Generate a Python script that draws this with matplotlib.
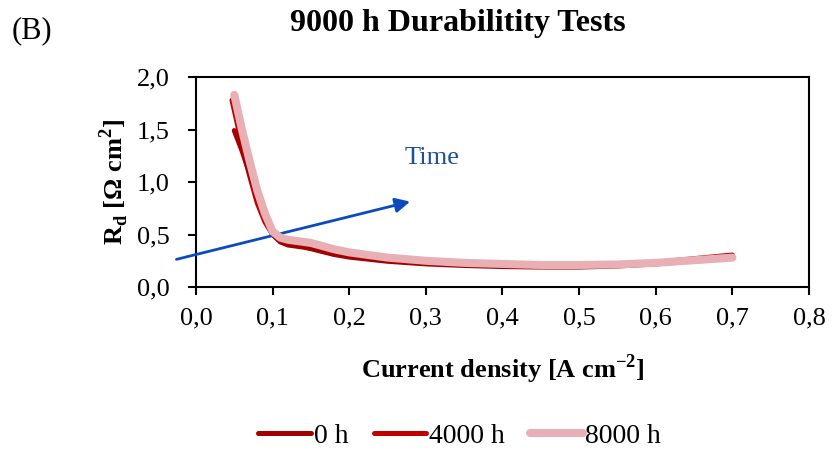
import matplotlib.pyplot as plt
import matplotlib.ticker as mticker

plt.rcParams['font.family'] = ['Liberation Serif', 'DejaVu Serif']
plt.rcParams['mathtext.fontset'] = 'custom'
plt.rcParams['mathtext.rm'] = 'Liberation Serif'
plt.rcParams['mathtext.bf'] = 'Liberation Serif:bold'

# Data
current = [0.05, 0.06, 0.07, 0.08, 0.09, 0.10, 0.11, 0.12, 0.14, 0.15, 0.18, 0.20,
           0.25, 0.30, 0.35, 0.40, 0.45, 0.50, 0.55, 0.60, 0.65, 0.70]
current_4000 = [0.047, 0.06, 0.07, 0.08, 0.09, 0.10, 0.11, 0.12, 0.14, 0.15, 0.18, 0.20,
                0.25, 0.30, 0.35, 0.40, 0.45, 0.50, 0.55, 0.60, 0.65, 0.70]
rd_0h = [1.49, 1.30, 1.08, 0.86, 0.66, 0.50, 0.43, 0.40, 0.38, 0.365, 0.31, 0.285,
         0.245, 0.22, 0.205, 0.195, 0.19, 0.19, 0.20, 0.22, 0.25, 0.285]
rd_4000h = [1.78, 1.36, 1.06, 0.80, 0.62, 0.50, 0.44, 0.42, 0.40, 0.385, 0.34, 0.31,
            0.265, 0.235, 0.215, 0.205, 0.20, 0.20, 0.21, 0.235, 0.27, 0.305]
rd_8000h = [1.83, 1.50, 1.20, 0.92, 0.70, 0.53, 0.47, 0.45, 0.43, 0.42, 0.36, 0.33,
            0.28, 0.25, 0.23, 0.22, 0.21, 0.21, 0.215, 0.23, 0.255, 0.28]
labels = ["0 h", "4000 h", "8000 h"]
colors = ["#A50000", "#C00000", "#E8B0B4"]
widths = [3.6, 3.6, 5.8]
zorders = [3, 2, 4]

fig = plt.figure(figsize=(8.36, 4.54), dpi=100)
ax = fig.add_axes([0.2344, 0.3678, 0.7333, 0.4626])

for x, y, lab, c, w, z in zip([current, current_4000, current], [rd_0h, rd_4000h, rd_8000h],
                              labels, colors, widths, zorders):
    ax.plot(x, y, color=c, lw=w, label=lab, solid_capstyle='round', zorder=z)

ax.set_xlim(0, 0.8)
ax.set_ylim(0, 2.0)
ax.xaxis.set_major_locator(mticker.MultipleLocator(0.1))
ax.yaxis.set_major_locator(mticker.MultipleLocator(0.5))
comma = mticker.FuncFormatter(lambda v, p: f"{v:.1f}".replace('.', ','))
ax.xaxis.set_major_formatter(comma)
ax.yaxis.set_major_formatter(comma)
ax.tick_params(direction='out', length=6, width=1.5, labelsize=19)
ax.tick_params(axis='x', pad=9)
ax.tick_params(axis='y', pad=13)
for s in ax.spines.values():
    s.set_linewidth(1.5)

ax.set_xlabel("Current density [A cm$^{\\mathbf{-2}}$]", fontsize=19, fontweight='bold', labelpad=16)
ax.set_ylabel("R$_\\mathbf{d}$ [Ω cm$^{\\mathbf{2}}$]", fontsize=19, fontweight='bold', labelpad=4)

# Time arrow
ax.annotate("", xy=(0.283, 0.82), xytext=(-0.029, 0.257), annotation_clip=False,
            arrowprops=dict(arrowstyle='-|>', color='#0A4CC0', lw=2, mutation_scale=22))
ax.text(0.272, 1.23, "Time", color='#1F4E9A', fontsize=19, va='center')

fig.text(0.548, 0.948, "9000 h Durabilitity Tests", ha='center', va='center',
         fontsize=23, fontweight='bold')
fig.text(0.014, 0.932, "(B)", ha='left', va='center', fontsize=22)

handles, leg_labels = ax.get_legend_handles_labels()
fig.legend(handles, leg_labels, loc='center', bbox_to_anchor=(0.55, 0.04), ncol=3,
           frameon=False, fontsize=20, handlelength=1.9, handletextpad=0.1,
           columnspacing=0.9, borderpad=0.2)

fig.savefig("out.png", dpi=100)
